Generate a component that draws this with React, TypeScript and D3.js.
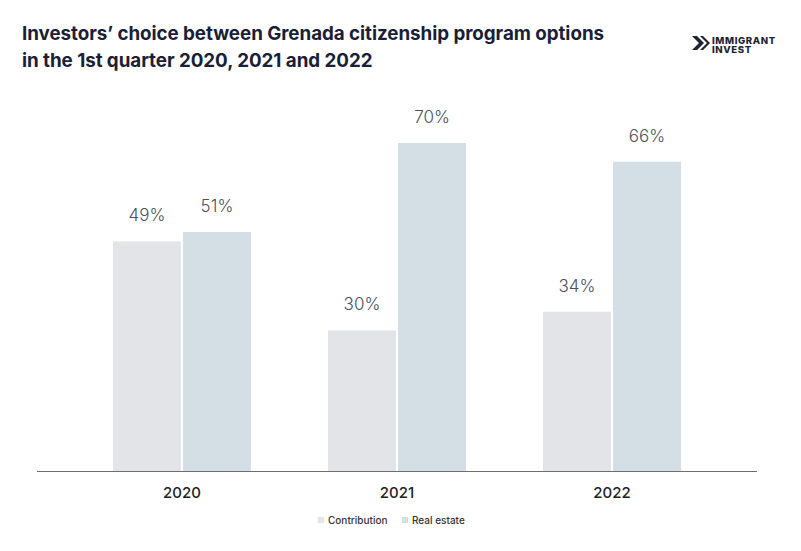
import React from "react";
import * as d3 from "d3";

const years = ["2020", "2021", "2022"];
const seriesNames = ["Contribution", "Real estate"];
const contribution = [49, 30, 34];
const realEstate = [51, 70, 66];
const seriesColors = ["#e3e4e8", "#d3dfe5"];
const titleLines = [
  "Investors’ choice between Grenada citizenship program options",
  "in the 1st quarter 2020, 2021 and 2022",
];

const W = 801;
const H = 551;

export default function App() {
  const x0 = d3
    .scaleBand<string>()
    .domain(years)
    .range([37, 757])
    .paddingInner(0.358)
    .paddingOuter(0.353);
  const x1 = d3
    .scaleBand<string>()
    .domain(seriesNames)
    .range([0, x0.bandwidth()])
    .paddingInner(0.0286);
  const y = d3.scaleLinear().domain([0, 70]).range([471, 143]);
  const values = [contribution, realEstate];

  return (
    <svg
      width={W}
      height={H}
      style={{ position: "absolute", left: 0, top: 0, background: "#fff" }}
      fontFamily="Inter, 'Noto Sans', sans-serif"
    >
      <rect x={0} y={0} width={W} height={H} fill="#fff" />
      {titleLines.map((t, i) => (
        <text
          key={i}
          x={22}
          y={40 + i * 27}
          fontSize={18.8}
          fontWeight={700}
          fill="#1a1e36"
          letterSpacing={-0.05}
        >
          {t}
        </text>
      ))}
      {/* logo */}
      <g fill="#1f2230">
        <polygon points="692,36 697,36 704,43 697,50 692,50 699,43" />
        <polygon points="700,36 703,36 710,43 703,50 700,50 707,43" />
        <text x={712} y={43.5} fontSize={9.6} fontWeight={800} letterSpacing={0.6}>
          IMMIGRANT
        </text>
        <text x={712} y={53} fontSize={9.6} fontWeight={800} letterSpacing={0.6}>
          INVEST
        </text>
      </g>
      {years.map((yr, i) => (
        <g key={yr} transform={`translate(${x0(yr)},0)`}>
          {seriesNames.map((s, j) => {
            const v = values[j][i];
            const bx = x1(s)!;
            return (
              <g key={s}>
                <rect
                  x={bx}
                  y={y(v)}
                  width={x1.bandwidth()}
                  height={y(0) - y(v)}
                  fill={seriesColors[j]}
                />
                <text
                  x={bx + x1.bandwidth() / 2}
                  y={y(v) - 20}
                  textAnchor="middle"
                  fontSize={17}
                  fontWeight={300}
                  fill="#4b505c"
                >
                  {v}%
                </text>
              </g>
            );
          })}
          <text
            x={x0.bandwidth() / 2}
            y={498}
            textAnchor="middle"
            fontSize={15}
            fontWeight={500}
            fill="#222"
          >
            {yr}
          </text>
        </g>
      ))}
      <line x1={37} x2={757} y1={471.5} y2={471.5} stroke="#6b6e78" strokeWidth={1.2} />
      {/* legend */}
      {seriesNames.map((s, j) => {
        const lx = [318, 402][j];
        return (
          <g key={s}>
            <rect x={lx} y={517} width={6} height={6} fill={seriesColors[j]} />
            <text x={lx + 10} y={524} fontSize={10} fontWeight={500} fill="#333">
              {s}
            </text>
          </g>
        );
      })}
    </svg>
  );
}
